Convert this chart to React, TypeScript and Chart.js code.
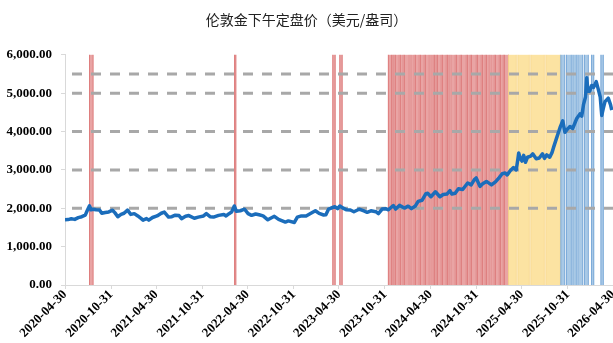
import React, { useEffect, useRef } from 'react';
import { Chart, registerables } from 'chart.js';

Chart.register(...registerables);

const TITLE = '伦敦金下午定盘价（美元/盎司）';
const START_DATE = '2020-04-30';
const END_DATE = '2026-04-30';

const tickLabels = [
  '2020-04-30', '2020-10-31', '2021-04-30', '2021-10-31', '2022-04-30', '2022-10-31',
  '2023-04-30', '2023-10-31', '2024-04-30', '2024-10-31', '2025-04-30', '2025-10-31', '2026-04-30',
];

const priceDates = [
  '2020-04-30', '2020-05-12', '2020-05-25', '2020-06-08', '2020-06-22', '2020-07-06', '2020-07-20', '2020-07-28',
  '2020-08-06', '2020-08-12', '2020-08-20', '2020-09-01', '2020-09-15', '2020-09-24', '2020-10-08', '2020-10-22',
  '2020-11-06', '2020-11-16', '2020-11-27', '2020-12-10', '2020-12-22', '2021-01-05', '2021-01-18', '2021-02-01',
  '2021-02-15', '2021-03-01', '2021-03-08', '2021-03-22', '2021-03-31', '2021-04-15', '2021-05-03', '2021-05-20',
  '2021-06-01', '2021-06-18', '2021-07-01', '2021-07-15', '2021-07-30', '2021-08-09', '2021-08-25', '2021-09-07',
  '2021-09-29', '2021-10-15', '2021-11-05', '2021-11-16', '2021-12-01', '2021-12-15', '2022-01-04', '2022-01-25',
  '2022-02-03', '2022-02-15', '2022-02-25', '2022-03-08', '2022-03-16', '2022-04-01', '2022-04-18', '2022-05-02',
  '2022-05-16', '2022-06-01', '2022-06-15', '2022-07-01', '2022-07-20', '2022-08-15', '2022-09-01', '2022-09-28',
  '2022-10-10', '2022-11-03', '2022-11-15', '2022-12-01', '2022-12-20', '2023-01-10', '2023-01-26', '2023-02-10',
  '2023-02-28', '2023-03-09', '2023-03-20', '2023-04-05', '2023-04-14', '2023-04-25', '2023-05-04', '2023-05-15',
  '2023-05-31', '2023-06-15', '2023-06-29', '2023-07-20', '2023-08-08', '2023-08-21', '2023-09-05', '2023-09-25',
  '2023-10-05', '2023-10-20', '2023-11-03', '2023-11-14', '2023-11-28', '2023-12-04', '2023-12-13', '2023-12-28',
  '2024-01-17', '2024-02-01', '2024-02-14', '2024-03-01', '2024-03-12', '2024-03-28', '2024-04-12', '2024-04-19',
  '2024-05-02', '2024-05-20', '2024-06-07', '2024-06-20', '2024-07-05', '2024-07-17', '2024-07-25', '2024-08-07',
  '2024-08-20', '2024-09-06', '2024-09-26', '2024-10-10', '2024-10-22', '2024-10-30', '2024-11-14', '2024-11-25',
  '2024-12-10', '2024-12-30', '2025-01-15', '2025-01-30', '2025-02-11', '2025-02-23', '2025-03-03', '2025-03-15',
  '2025-03-28', '2025-04-08', '2025-04-14', '2025-04-18', '2025-04-24', '2025-05-01', '2025-05-08', '2025-05-15',
  '2025-05-23', '2025-06-05', '2025-06-13', '2025-06-27', '2025-07-09', '2025-07-22', '2025-07-30', '2025-08-08',
  '2025-08-20', '2025-08-29', '2025-09-05', '2025-09-18', '2025-09-30', '2025-10-11', '2025-10-20', '2025-10-28',
  '2025-11-09', '2025-11-20', '2025-12-06', '2025-12-19', '2025-12-26', '2026-01-02', '2026-01-10', '2026-01-15',
  '2026-01-20', '2026-01-26', '2026-02-04', '2026-02-11', '2026-02-22', '2026-03-03', '2026-03-10', '2026-03-16',
  '2026-03-22', '2026-03-29', '2026-04-11', '2026-04-20', '2026-04-25',
];

const priceValues = [
  1700, 1705, 1725, 1710, 1755, 1780, 1820, 1940,
  2065, 1960, 1975, 1960, 1955, 1870, 1890, 1905,
  1950, 1880, 1780, 1840, 1870, 1950, 1840, 1860,
  1800, 1730, 1690, 1730, 1690, 1760, 1800, 1870,
  1900, 1770, 1780, 1820, 1810, 1730, 1790, 1810,
  1740, 1770, 1800, 1860, 1780, 1770, 1815, 1840,
  1800, 1860, 1900, 2060, 1920, 1935, 1975, 1860,
  1815, 1850, 1830, 1800, 1700, 1790, 1710, 1640,
  1670, 1630, 1770, 1800, 1800, 1875, 1935, 1865,
  1825, 1830, 1980, 2020, 2040, 1990, 2060, 2010,
  1960, 1955, 1910, 1975, 1930, 1895, 1935, 1910,
  1860, 1980, 1990, 1960, 2040, 2070, 1980, 2075,
  2005, 2055, 1990, 2060, 2180, 2210, 2380, 2390,
  2300, 2430, 2300, 2360, 2370, 2460, 2370, 2390,
  2510, 2490, 2660, 2610, 2740, 2790, 2570, 2640,
  2700, 2610, 2690, 2800, 2900, 2920, 2870, 2980,
  3060, 3000, 3250, 3440, 3300, 3230, 3380, 3200,
  3330, 3360, 3420, 3290, 3310, 3420, 3300, 3390,
  3330, 3450, 3600, 3860, 4100, 4280, 3980, 4050,
  4130, 4080, 4340, 4460, 4400, 4700, 4900, 5400,
  5050, 5050, 5200, 5150, 5300, 5080, 4900, 4420,
  4600, 4780, 4870, 4700, 4560,
];

const refLevels = [2000, 3000, 4000, 5000, 5500];
const refStartDate = '2020-05-28';

const redBands = [
  ['2020-08-04', '2020-08-19'],
  ['2022-03-07', '2022-03-09'],
  ['2023-04-04', '2023-04-14'],
  ['2023-05-02', '2023-05-12'],
  ['2023-11-12', '2023-11-26'], ['2023-11-30', '2023-12-06'], ['2023-12-10', '2023-12-26'],
  ['2023-12-30', '2024-01-11'], ['2024-01-15', '2024-02-04'], ['2024-02-10', '2024-02-24'],
  ['2024-02-28', '2024-03-15'], ['2024-03-19', '2024-04-04'], ['2024-04-08', '2024-04-24'],
  ['2024-04-30', '2024-05-10'], ['2024-05-14', '2024-05-22'], ['2024-05-26', '2024-06-11'],
  ['2024-06-15', '2024-07-01'], ['2024-07-05', '2024-07-13'], ['2024-07-19', '2024-08-06'],
  ['2024-08-10', '2024-08-26'], ['2024-08-30', '2024-09-19'], ['2024-09-23', '2024-10-05'],
  ['2024-10-09', '2024-10-29'], ['2024-11-02', '2024-11-18'], ['2024-11-22', '2024-12-04'],
  ['2024-12-08', '2024-12-20'], ['2024-12-26', '2025-01-09'], ['2025-01-13', '2025-01-29'],
  ['2025-02-02', '2025-02-14'], ['2025-02-18', '2025-03-07'],
];
const yellowBands = [
  ['2025-03-07', '2025-04-07'], ['2025-04-13', '2025-05-29'], ['2025-06-04', '2025-07-28'],
  ['2025-08-03', '2025-09-30'],
];
const blueBands = [
  ['2025-10-02', '2025-10-18'], ['2025-10-24', '2025-11-13'], ['2025-11-19', '2025-12-03'],
  ['2025-12-09', '2025-12-29'], ['2026-01-04', '2026-01-20'], ['2026-02-01', '2026-02-11'],
  ['2026-03-11', '2026-03-21'],
];

function toDay(s: string): number {
  const [y, m, d] = s.split('-').map(Number);
  const [y0, m0, d0] = START_DATE.split('-').map(Number);
  return (Date.UTC(y, m - 1, d) - Date.UTC(y0, m0 - 1, d0)) / 86400000;
}

const bandPlugin = {
  id: 'bands',
  beforeDatasetsDraw(chart: any) {
    const { ctx, chartArea, scales } = chart;
    const x = scales.x;
    const top = chartArea.top;
    const h = chartArea.bottom - chartArea.top;
    const groups: [string[][], string, string][] = [
      [redBands, '#e9a4a4', 'rgba(214,100,100,0.75)'],
      [yellowBands, '#fce3a2', 'rgba(245,205,120,0.6)'],
      [blueBands, '#a9c9e6', 'rgba(100,155,210,0.8)'],
    ];
    ctx.save();
    for (const [bands, fill, edge] of groups) {
      for (const [s, e] of bands) {
        const x1 = x.getPixelForValue(toDay(s));
        const x2 = x.getPixelForValue(toDay(e));
        const w = Math.max(1.5, x2 - x1) + 0.7;
        ctx.fillStyle = fill;
        ctx.fillRect(x1, top, w, h);
        ctx.fillStyle = edge;
        ctx.fillRect(x1, top, 0.8, h);
        ctx.fillRect(x1 + w - 0.8, top, 0.8, h);
      }
    }
    ctx.restore();
  },
};

export default function App() {
  const ref = useRef<HTMLCanvasElement>(null);

  useEffect(() => {
    document.body.style.margin = '0';
    const canvas = ref.current;
    if (!canvas) return;
    const serif = '"Liberation Serif", "Times New Roman", serif';
    const endDay = toDay(END_DATE);
    const datasets: any[] = [
      {
        label: 'price',
        data: priceDates.map((d, i) => ({ x: toDay(d), y: priceValues[i] })),
        borderColor: '#1b6dbb',
        borderWidth: 3.5,
        pointRadius: 0,
        tension: 0,
        borderJoinStyle: 'round',
        order: 0,
      },
      ...refLevels.map((lv) => ({
        label: 'ref' + lv,
        data: [{ x: toDay(refStartDate), y: lv }, { x: endDay, y: lv }],
        borderColor: '#a8a8a8',
        borderWidth: 3,
        borderDash: [10, 9],
        pointRadius: 0,
        order: 1,
      })),
    ];
    const chart = new Chart(canvas, {
      type: 'line',
      data: { datasets },
      plugins: [bandPlugin],
      options: {
        animation: false,
        responsive: false,
        devicePixelRatio: 1,
        layout: { padding: 0 },
        plugins: {
          legend: { display: false },
          tooltip: { enabled: false },
          title: {
            display: true,
            text: TITLE,
            color: '#222',
            font: { family: '"Noto Sans CJK SC", sans-serif', size: 14, weight: 'normal' },
            padding: { top: 11, bottom: 27 },
          },
        },
        scales: {
          x: {
            type: 'linear',
            min: 0,
            max: endDay,
            afterBuildTicks: (s: any) => {
              s.ticks = tickLabels.map((t) => ({ value: toDay(t) }));
            },
            afterFit: (s: any) => {
              s.height = 58;
              s.paddingRight = 0;
              s.paddingLeft = 0;
            },
            ticks: {
              autoSkip: false,
              minRotation: 45,
              maxRotation: 45,
              color: '#000',
              padding: -2,
              font: { family: serif, size: 13, weight: 'bold' },
              callback: (_v: any, i: number) => tickLabels[i],
            },
            grid: { drawOnChartArea: false, tickLength: 4, color: '#d9d9d9' },
            border: { color: '#d9d9d9' },
          },
          y: {
            min: 0,
            max: 6000,
            afterFit: (s: any) => {
              s.width = 65;
            },
            ticks: {
              stepSize: 1000,
              color: '#000',
              padding: 9,
              font: { family: serif, size: 13, weight: 'bold' },
              callback: (v: any) =>
                Number(v).toLocaleString('en-US', { minimumFractionDigits: 2, maximumFractionDigits: 2 }),
            },
            grid: { drawOnChartArea: false, tickLength: 4, color: '#d9d9d9' },
            border: { color: '#d9d9d9' },
          },
        },
      },
    } as any);
    return () => chart.destroy();
  }, []);

  return (
    <div style={{ width: 613, height: 343 }}>
      <canvas ref={ref} width={613} height={343} style={{ display: 'block' }} />
    </div>
  );
}
